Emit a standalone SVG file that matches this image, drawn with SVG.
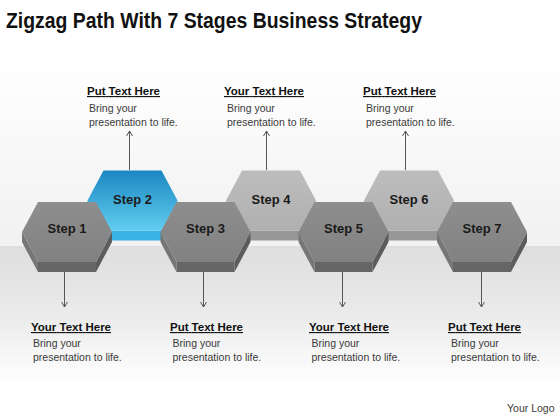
<svg xmlns="http://www.w3.org/2000/svg" width="560" height="420" viewBox="0 0 560 420">
<defs>
<style>
.title{font-family:"Liberation Sans",Arial,sans-serif;font-weight:bold;font-size:22px;fill:#111}
.head{font-family:"Liberation Sans",Arial,sans-serif;font-weight:bold;font-size:11.5px;fill:#111;text-decoration:underline}
.body{font-family:"Liberation Sans",Arial,sans-serif;font-size:10.5px;fill:#3a3a3a}
.step{font-family:"Liberation Sans",Arial,sans-serif;font-weight:bold;font-size:13px;fill:#1a1a1a;text-anchor:middle}
.conn{stroke:#555;stroke-width:1;fill:none}
.gFace{fill:url(#gGray)}
.gL{fill:#767676}.gB{fill:#666}.gR{fill:#5c5c5c}
.lFace{fill:url(#gLight)}
.lL{fill:#a2a2a2}.lB{fill:#979797}.lR{fill:#8e8e8e}
.bFace{fill:url(#gBlue)}
.bL{fill:#2fa6d8}.bB{fill:#38b2e2}.bR{fill:#2196cc}
</style>
<linearGradient id="gGray" x1="0" y1="0" x2="0" y2="1"><stop offset="0" stop-color="#8e8e8e"/><stop offset="1" stop-color="#818181"/></linearGradient>
<linearGradient id="gLight" x1="0" y1="0" x2="0" y2="1"><stop offset="0" stop-color="#bdbdbd"/><stop offset="1" stop-color="#b0b0b0"/></linearGradient>
<linearGradient id="gBlue" x1="0" y1="0" x2="0" y2="1"><stop offset="0" stop-color="#1b87c2"/><stop offset="1" stop-color="#62cdef"/></linearGradient>
<linearGradient id="bgTop" x1="0" y1="0" x2="0" y2="1"><stop offset="0" stop-color="#ffffff"/><stop offset="1" stop-color="#f1f1f1"/></linearGradient>
<linearGradient id="bgBot" x1="0" y1="0" x2="0" y2="1"><stop offset="0" stop-color="#dedede"/><stop offset="0.4" stop-color="#ebebeb"/><stop offset="0.8" stop-color="#ffffff"/></linearGradient>
<polygon id="face" points="-29,-30 29,-30 45,0 29,30 -29,30 -45,0"/>
<polygon id="sideL" points="-45,0 -29,30 -29,40 -45,10"/>
<polygon id="sideB" points="-29,30 29,30 29,40 -29,40"/>
<polygon id="sideR" points="29,30 45,0 45,10 29,40"/>
<marker id="ah" markerWidth="8" markerHeight="8" refX="6" refY="4" orient="auto" markerUnits="userSpaceOnUse"><path d="M1,1 L6,4 L1,7" fill="none" stroke="#555" stroke-width="1"/></marker>
</defs>
<rect x="0" y="0" width="560" height="420" fill="#fff"/>
<rect x="0" y="60" width="560" height="186" fill="url(#bgTop)"/>
<rect x="0" y="246" width="560" height="174" fill="url(#bgBot)"/>
<text class="title" x="6" y="28" textLength="416" lengthAdjust="spacingAndGlyphs">Zigzag Path With 7 Stages Business Strategy</text>

<g id="step2" transform="translate(132.5,200.5)">
<use href="#sideL" class="bL"/><use href="#sideB" class="bB"/><use href="#sideR" class="bR"/><use href="#face" class="bFace"/>
<text class="step" x="0" y="3">Step 2</text></g>
<g id="step4" transform="translate(271,200.5)">
<use href="#sideL" class="lL"/><use href="#sideB" class="lB"/><use href="#sideR" class="lR"/><use href="#face" class="lFace"/>
<text class="step" x="0" y="3">Step 4</text></g>
<g id="step6" transform="translate(409,200.5)">
<use href="#sideL" class="lL"/><use href="#sideB" class="lB"/><use href="#sideR" class="lR"/><use href="#face" class="lFace"/>
<text class="step" x="0" y="3">Step 6</text></g>

<g id="step1" transform="translate(67,232)">
<use href="#sideL" class="gL"/><use href="#sideB" class="gB"/><use href="#sideR" class="gR"/><use href="#face" class="gFace"/>
<text class="step" x="0" y="1">Step 1</text></g>
<g id="step3" transform="translate(205.5,232)">
<use href="#sideL" class="gL"/><use href="#sideB" class="gB"/><use href="#sideR" class="gR"/><use href="#face" class="gFace"/>
<text class="step" x="0" y="1">Step 3</text></g>
<g id="step5" transform="translate(343.5,232)">
<use href="#sideL" class="gL"/><use href="#sideB" class="gB"/><use href="#sideR" class="gR"/><use href="#face" class="gFace"/>
<text class="step" x="0" y="1">Step 5</text></g>
<g id="step7" transform="translate(482,232)">
<use href="#sideL" class="gL"/><use href="#sideB" class="gB"/><use href="#sideR" class="gR"/><use href="#face" class="gFace"/>
<text class="step" x="0" y="1">Step 7</text></g>

<g id="connectors">
<line class="conn" x1="129.5" y1="170" x2="129.5" y2="131" marker-end="url(#ah)"/>
<line class="conn" x1="266.5" y1="170" x2="266.5" y2="131" marker-end="url(#ah)"/>
<line class="conn" x1="405.5" y1="170" x2="405.5" y2="131" marker-end="url(#ah)"/>
<line class="conn" x1="64.5" y1="272" x2="64.5" y2="307" marker-end="url(#ah)"/>
<line class="conn" x1="203.5" y1="272" x2="203.5" y2="307" marker-end="url(#ah)"/>
<line class="conn" x1="342.5" y1="272" x2="342.5" y2="307" marker-end="url(#ah)"/>
<line class="conn" x1="481.5" y1="272" x2="481.5" y2="307" marker-end="url(#ah)"/>
</g>

<g id="label-top1"><text class="head" x="87" y="95" textLength="73">Put Text Here</text>
<text class="body" x="89" y="112">Bring your</text><text class="body" x="89" y="126">presentation to life.</text></g>
<g id="label-top2"><text class="head" x="224" y="95" textLength="80">Your Text Here</text>
<text class="body" x="227" y="112">Bring your</text><text class="body" x="227" y="126">presentation to life.</text></g>
<g id="label-top3"><text class="head" x="363" y="95" textLength="73">Put Text Here</text>
<text class="body" x="366" y="112">Bring your</text><text class="body" x="366" y="126">presentation to life.</text></g>

<g id="label-bot1"><text class="head" x="31" y="331" textLength="80">Your Text Here</text>
<text class="body" x="33" y="347">Bring your</text><text class="body" x="33" y="361">presentation to life.</text></g>
<g id="label-bot2"><text class="head" x="170" y="331" textLength="73">Put Text Here</text>
<text class="body" x="172.5" y="347">Bring your</text><text class="body" x="172.5" y="361">presentation to life.</text></g>
<g id="label-bot3"><text class="head" x="309" y="331" textLength="80">Your Text Here</text>
<text class="body" x="311.5" y="347">Bring your</text><text class="body" x="311.5" y="361">presentation to life.</text></g>
<g id="label-bot4"><text class="head" x="448" y="331" textLength="73">Put Text Here</text>
<text class="body" x="451" y="347">Bring your</text><text class="body" x="451" y="361">presentation to life.</text></g>

<text class="body" x="507" y="412" font-size="10">Your Logo</text>
</svg>
